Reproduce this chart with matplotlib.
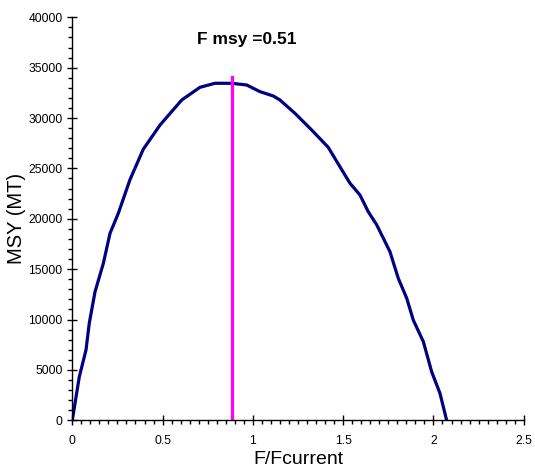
import matplotlib
matplotlib.use("Agg")
import matplotlib.pyplot as plt
from matplotlib.ticker import MultipleLocator

plt.rcParams['font.family'] = ['Liberation Sans', 'DejaVu Sans']

# yield curve against relative fishing mortality
f_rel = [0.0, 0.039, 0.076, 0.094, 0.126, 0.172, 0.209, 0.255, 0.319, 0.393,
         0.486, 0.606, 0.707, 0.790, 0.883, 0.966, 1.039, 1.113, 1.150, 1.233,
         1.326, 1.417, 1.482, 1.538, 1.593, 1.639, 1.686, 1.759, 1.805, 1.852,
         1.888, 1.944, 1.990, 2.036, 2.073]
msy = [0, 4330, 6980, 9630, 12760, 15580, 18560, 20550, 23860, 26900,
       29310, 31790, 33050, 33450, 33450, 33280, 32620, 32190, 31790, 30470,
       28810, 27100, 25170, 23520, 22360, 20700, 19390, 16740, 14100, 12110,
       9960, 7800, 4820, 2680, 0]

f_msy_rel = 0.883
f_msy_top = 34100
f_msy_label = "F msy =0.51"

fig = plt.figure(figsize=(5.35, 4.71), dpi=100)
ax = fig.add_axes([0.1351, 0.1076, 0.979 - 0.1351, 0.9633 - 0.1076])

ax.plot(f_rel, msy, color='#000080', linewidth=2.3, solid_joinstyle='round')
ax.plot([f_msy_rel, f_msy_rel], [0, f_msy_top], color='#FF00FF', linewidth=2.3)

ax.text(0.966, 37800, f_msy_label, ha='center', va='center',
        fontsize=12.5, fontweight='bold')

ax.set_xlim(0, 2.5)
ax.set_ylim(0, 40000)
ax.xaxis.set_major_locator(MultipleLocator(0.5))
ax.xaxis.set_minor_locator(MultipleLocator(0.05))
ax.yaxis.set_major_locator(MultipleLocator(5000))
ax.yaxis.set_minor_locator(MultipleLocator(1000))
ax.xaxis.set_major_formatter(plt.FuncFormatter(lambda v, p: f"{v:g}"))

for s in ['top', 'right']:
    ax.spines[s].set_visible(False)
for s in ['left', 'bottom']:
    ax.spines[s].set_linewidth(1.0)

ax.tick_params(which='major', direction='inout', length=7, width=1, labelsize=8.7)
ax.tick_params(axis='x', which='major', pad=7)
ax.tick_params(axis='y', which='major', pad=3.5)
ax.tick_params(which='minor', direction='out', length=3, width=1)

ax.set_xlabel('F/Fcurrent', fontsize=14, labelpad=3)
ax.set_ylabel('MSY (MT)', fontsize=14.5, labelpad=2)

fig.savefig('out.png', dpi=100)
